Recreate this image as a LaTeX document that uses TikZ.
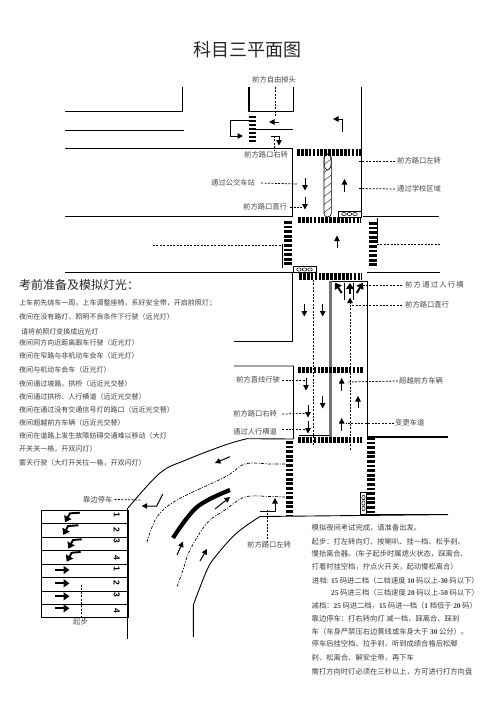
\documentclass[tikz,border=0pt]{standalone}
\usepackage{fontspec}
\setmainfont{Noto Sans CJK SC}
\newfontfamily\latn{Liberation Serif}
\newfontfamily\numfont{Liberation Sans}[BoldFont={Liberation Sans Bold}]
\usetikzlibrary{arrows.meta}
\tikzset{
  road/.style={line width=0.9pt,black},
  thickroad/.style={line width=1.8pt,black},
  lead/.style={line width=0.75pt,black,dash pattern=on 2pt off 1.4pt},
  ddot/.style={line width=0.7pt,black,dash pattern=on 3pt off 1.5pt on 1pt off 1.5pt},
  arr/.style={line width=1pt,black,-{Triangle[length=5.5pt,width=5.5pt]}},
  barr/.style={line width=1.9pt,black,-{Triangle[length=6pt,width=8pt]}},
  xwh/.style={line width=6.5pt,black,dash pattern=on 2.7pt off 1.2pt},
  xwv/.style={line width=7.5pt,black,dash pattern=on 2.8pt off 1.8pt},
  lab/.style={anchor=west,inner sep=0pt,text=black!72,font=\fontsize{7.3}{8}\selectfont},
  ltxt/.style={anchor=west,inner sep=0pt,text=black!75,font=\fontsize{7.03}{8}\selectfont},
  rtxt/.style={anchor=west,inner sep=0pt,text=black!75,font=\fontsize{7.3}{8}\selectfont},
  num/.style={inner sep=0pt,rotate=-90,font=\fontsize{8.5}{9}\selectfont\numfont\bfseries},
  lightbox/.style={draw=black,line width=0.7pt,fill=white},
  bulb/.style={draw=black,line width=0.5pt,fill=white}
}
\begin{document}
\begin{tikzpicture}[x=1pt,y=-1pt]
\useasboundingbox (0,0) rectangle (496,702);
\fill[white] (0,0) rectangle (496,702);
\node[inner sep=0pt,font=\fontsize{18}{20}\selectfont,text=black!85] (title) at (247,50) {科目三平面图};

% left roads
\draw[road] (65,111.5) -- (182.7,111.5) -- (182.7,87);
\draw[road] (65,130.3) -- (184,130.3);
\draw[road] (65,148.3) -- (292.3,148.3) -- (292.3,216.3) -- (65,216.3);
\draw[road] (65,272.3) -- (292.7,272.3) -- (292.7,341) -- (234,341);
\draw[road] (234,366) -- (293.5,366) -- (293.5,439) -- (247,438.7);
% top junction
\draw[line width=1.5pt] (249,87) -- (249,111.5);
\draw[road] (249,111.5) -- (293.5,111.5) -- (293.5,87);
\draw[road] (256,129.3) -- (293,129.3);
\draw[road] (361.5,87) -- (361.5,216.3);
\draw[road] (363,216.3) -- (439,216.3);
\draw[road] (367,272.3) -- (440,272.3);
\draw[road] (377,218) -- (377,243);
\draw[road] (282.3,244) -- (282.3,268);
\draw[road] (330,281) -- (367.3,281) -- (367.3,437);
\draw[thickroad] (367,437) -- (448,437);
\draw[line width=2.5pt,black!55] (330.3,281) -- (330.3,437);
\draw[line width=0.7pt] (299,435.3) -- (329,435.3);

% curves
\draw[road] plot[smooth,tension=0.6] coordinates {(247,438.7) (225,445) (186,460) (160,473) (128,508)};
\draw[road] (448,514.6) -- (260,516.5);
\draw[road] plot[smooth,tension=0.6] coordinates {(260,516.5) (236.7,533) (216.7,555) (207,570) (193.3,605)} -- (193.3,637);
\draw[road] (127.6,508) -- (127.6,639);
\draw[line width=1.3pt] (360,514.6) -- (448,514.6);
\draw[ddot] plot[smooth,tension=0.6] coordinates {(285,464) (270,464) (245,464) (225,477) (177,500) (157,517) (147,542)};
\draw[ddot] plot[smooth,tension=0.6] coordinates {(285,497) (270,496.5) (245,497) (225,510) (207,523) (190,550) (183,570) (177,587)};
\draw[line width=4.2pt,black] plot[smooth,tension=0.6] coordinates {(230,490) (197,507) (173,538)};

% crosswalks
\draw[line width=7pt,black,dash pattern=on 2.4pt off 1.6pt] (252.5,116) -- (252.5,143);
\draw[xwh] (297,152.5) -- (361,152.5);
\draw[xwh] (298,220) -- (361,220);
\draw[xwv] (288,221) -- (288,266);
\draw[xwv] (373,222) -- (373,268);
\draw[xwh] (299,276.5) -- (362,276.5);
\draw[xwh] (298,370) -- (364,370);
\draw[xwh] (298,440) -- (362,440);
\draw[xwv] (289.5,441) -- (289.5,515);
\draw[xwv] (371,437) -- (371,515);

% hatched strip
\begin{scope}
\clip[rounded corners=3.6pt] (324,154) rectangle (331.3,217);
\foreach \yy in {158,166,...,230} {\draw[line width=0.5pt,black!80] (322,\yy) -- (334,\yy-9);}
\end{scope}
\draw[line width=0.6pt,black,rounded corners=3.6pt] (324,154) rectangle (331.3,217);
\draw[line width=0.5pt,black] (327.6,162) ellipse [x radius=3.6pt,y radius=8pt];

% traffic lights
\node[lightbox,minimum width=23pt,minimum height=6pt,inner sep=0pt] (lighta) at (349.5,214) {};
\foreach \xx in {344,349.5,355} \draw[bulb] (\xx,214) ellipse [x radius=2.3pt,y radius=1.6pt];
\node[lightbox,minimum width=23pt,minimum height=5.5pt,inner sep=0pt] (lightb) at (304.5,269.5) {};
\foreach \xx in {299,304.5,310} \draw[bulb] (\xx,269.5) ellipse [x radius=2.3pt,y radius=1.6pt];
\node[lightbox,minimum width=6.5pt,minimum height=22pt,inner sep=0pt] (lightc) at (363.5,503) {};
\foreach \yy in {497.5,503,508.5} \draw[bulb] (363.5,\yy) ellipse [x radius=1.6pt,y radius=2.3pt];

% arrows upper
\draw[arr] (279,122) -- (269,122);
\draw[arr] (249,120.5) -- (230,120.5) -- (230,136) -- (243,136);
\draw[arr] (271,136) -- (279,136) -- (279,145.5);
\draw[arr] (342.3,132) -- (342.3,119) -- (333,119);
\draw[arr] (305,178) -- (305,190.5);
\draw[arr] (305,197) -- (305,209.5);
\draw[arr] (344.5,191.5) -- (344.5,179);
\draw[arr] (337,248) -- (337,235.5);
% lane arrows
\draw[road] (344.5,283) -- (344.5,300);
\draw[road] (353.7,283) -- (353.7,300);
\draw[barr] (341.7,293) -- (335,282.7);
\draw[barr] (350,294) -- (350,283);
\draw[barr] (356.7,293) -- (363,282.7);
\draw[arr] (350,304) -- (350,297.5);
\draw[arr] (304.3,304) -- (304.3,316.5);
\draw[arr] (322.7,304) -- (322.7,316.5);
\draw[arr] (306,378) -- (306,390.5);
\draw[arr] (322.7,396) -- (322.7,408.5);
\draw[arr] (308,405) -- (308,417.5);
\draw[arr] (308,421) -- (308,433.5);
\draw[arr] (341.7,391) -- (341.7,378);
\draw[arr] (358,408) -- (358,396);
\draw[arr] (341.7,431) -- (341.7,418);
\draw[arr] (260,511.7) -- (275,511.7) -- (275,498);
\draw[arr] (230,456.7) -- (215,463);
\draw[arr] (215,509) -- (230,497);
\draw[arr] (177,555) -- (183,541.5);
\draw[arr] (200,561) -- (207,549);
\draw[arr] (162.7,494) -- (156.7,506) -- (141.7,506);

% labels and leaders
\node[lab] (uturn) at (252,80) {前方自由掉头};
\node[lab] (tr1) at (244,155) {前方路口右转};
\node[lab] (bus) at (211,183) {通过公交车站};
\node[lab] (st1) at (243,207) {前方路口直行};
\node[lab] (tl1) at (397,161) {前方路口左转};
\node[lab] (school) at (397,189) {通过学校区域};
\node[lab,font=\fontsize{7.3}{8}\selectfont\addfontfeature{LetterSpace=17}] (walk1) at (405,285) {前方通过人行横};
\node[lab] (st2) at (405,305) {前方路口直行};
\node[lab] (line1) at (236,380) {前方直线行驶};
\node[lab] (over) at (399,381) {超越前方车辆};
\node[lab] (tr2) at (233,414) {前方路口右转};
\node[lab] (lane) at (395,423) {变更车道};
\node[lab] (walk2) at (233,432) {通过人行横道};
\node[lab] (stopl) at (83,499.5) {靠边停车};
\node[lab] (tl2) at (247,545) {前方路口左转};
\node[lab] (start) at (73,622) {起步};

\draw[lead] (275,87) -- (275,117);
\draw[lead] (274,136) -- (tr1.north -| 274,0);
\draw[lead] (bus.east) ++(6,0) -- (298,184);
\draw[lead] (st1.east) ++(3,0) -- (303,207);
\draw[lead] (tl1.west) ++(-2,0) -- (358,161);
\draw[lead] (school.west) ++(-2,0) -- (358,188.5);
\draw[lead] (153,245) -- (282,245);
\draw[lead] (377,244) -- (441,244);
\draw[lead] (313,280) -- (313,445);
\draw[lead] (350,305) -- (350,451);
\draw[lead] (walk1.west) ++(-3,0) -- (363,285);
\draw[lead] (st2.west) ++(-3,0) -- (350,305);
\draw[lead] (line1.east) ++(2,0) -- (306,380);
\draw[lead] (over.west) ++(-1,0) -- (347,382);
\draw[lead] (tr2.east) ++(5,0) -- (306,413.5);
\draw[lead] (lane.west) ++(-1,0) -- (346,423);
\draw[lead] (walk2.east) ++(5,-3) -- (306,429);
\draw[lead] (stopl.east) ++(2,0) -- (141,500);
\draw[lead] (267,510) -- (tl2.north -| 267,0);
\draw[lead] (81.3,585) -- (81.3,617);

% exam table
\draw[line width=0.9pt] (41,510) rectangle (128,617);
\foreach \yy in {523.3,537.3,550.7,564,577.3,591,604.3} \draw[line width=0.9pt] (41,\yy) -- (128,\yy);
\draw[barr] (80,512.7) -- (70,513.3) -- (65,522.3);
\draw[barr] (78.3,525.3) -- (68,526) -- (63.3,535);
\draw[barr] (81.7,539.3) -- (73,540) -- (68.3,548.7);
\draw[barr] (80.7,552) -- (71.7,552.7) -- (66.7,561.7);
\draw[barr] (55,570) -- (69.5,570);
\draw[barr] (55,583.3) -- (69.5,583.3);
\draw[barr] (55,596.3) -- (69.5,596.3);
\draw[barr] (55,608.3) -- (69.5,608.3);
\node[num] (n1) at (116.7,515) {1};
\node[num] (n2) at (116.7,530) {2};
\node[num] (n3) at (116.7,541) {3};
\node[num] (n4) at (116.7,557.7) {4};
\node[num] (n5) at (116.7,568.7) {1};
\node[num] (n6) at (116.7,583) {2};
\node[num] (n7) at (116.7,595) {3};
\node[num] (n8) at (116.7,611) {4};

% left text
\node[anchor=west,inner sep=0pt,text=black!85,font=\fontsize{12}{14}\selectfont] (lhead) at (19,285) {考前准备及模拟灯光：};
\node[ltxt] (l1) at (19,303) {上车前先绕车一周，上车调整座椅，系好安全带，开启前照灯；};
\node[ltxt] (l2) at (19,317) {夜间在没有路灯、照明不良条件下行驶（远光灯）};
\node[ltxt] (l3) at (21,331.5) {请将前照灯变换成远光灯};
\node[ltxt] (l4) at (19,343) {夜间同方向近距离跟车行驶（近光灯）};
\node[ltxt] (l5) at (19,356) {夜间在窄路与非机动车会车（近光灯）};
\node[ltxt] (l6) at (19,370) {夜间与机动车会车（近光灯）};
\node[ltxt] (l7) at (19,383.5) {夜间通过坡路，拱桥（远近光交替）};
\node[ltxt] (l8) at (19,397) {夜间通过拱桥、人行横道（远近光交替）};
\node[ltxt] (l9) at (19,410) {夜间在通过没有交通信号灯的路口（远近光交替）};
\node[ltxt] (l10) at (19,423) {夜间超越前方车辆（远近光交替）};
\node[ltxt] (l11) at (19,436) {夜间在道路上发生故障妨碍交通难以移动（大灯};
\node[ltxt] (l12) at (19,449) {开关关一格，开双闪灯）};
\node[ltxt] (l13) at (19,463) {雾天行驶（大灯开关拉一格，开双闪灯）};

% right text
\node[rtxt] (r1) at (311.5,528) {模拟夜间考试完成，请准备出发。};
\node[rtxt] (r2) at (311.5,542) {起步：打左转向灯、按喇叭、挂一档、松手刹、};
\node[rtxt] (r3) at (311.5,554) {慢抬离合器。(车子起步时属熄火状态，踩离合、};
\node[rtxt] (r4) at (311.5,567) {打着时挂空档，拧点火开关，起动慢松离合）};
\node[rtxt] (r5) at (312,581) {进档: {\latn\bfseries 15} 码进二档（二档速度 {\latn\bfseries 10} 码以上{\latn\bfseries -30} 码以下）};
\node[rtxt] (r6) at (331,593) {{\latn\bfseries 25} 码进三档（三档速度 {\latn\bfseries 20} 码以上{\latn\bfseries -50} 码以下）};
\node[rtxt] (r7) at (311.5,606) {减档：{\latn\bfseries 25} 码进二档，{\latn\bfseries 15} 码进一档（{\latn\bfseries 1} 档低于 {\latn\bfseries 20} 码）};
\node[rtxt] (r8) at (311.5,619) {靠边停车：打右转向灯 减一档，踩离合、踩刹};
\node[rtxt] (r9) at (311.5,632) {车（车身严禁压右边黄线或车身大于 {\latn\bfseries 30} 公分）。};
\node[rtxt] (r10) at (311.5,644) {停车后挂空档、拉手刹，听到成绩合格后松脚};
\node[rtxt] (r11) at (311.5,658) {刹、松离合、解安全带，再下车};
\node[rtxt] (r12) at (311.5,672) {需打方向时灯必须在三秒以上，方可进行打方向盘};
\end{tikzpicture}
\end{document}
